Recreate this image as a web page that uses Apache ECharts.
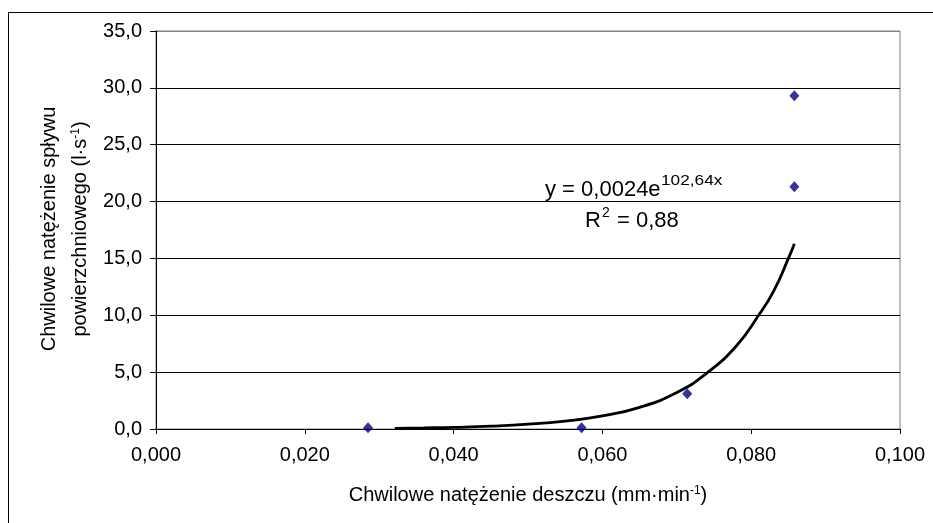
<!DOCTYPE html>
<html>
<head>
<meta charset="utf-8">
<script src="https://cdn.jsdelivr.net/npm/echarts@6/dist/echarts.min.js"></script>
<style>
html,body{margin:0;padding:0;background:#fff;}
#c{width:933px;height:523px;}
</style>
</head>
<body>
<div id="c"></div>
<script>
// Measured points
var pointX = [0.0285, 0.0572, 0.0714, 0.0858, 0.0858];
var pointY = [0.1, 0.1, 3.1, 21.3, 29.3];
// Trend line
var trendX = [0.0321, 0.036, 0.040, 0.045, 0.050, 0.055, 0.060, 0.065, 0.070, 0.074, 0.078, 0.081, 0.083, 0.085, 0.0858];
var trendY = [0.06, 0.10, 0.15, 0.25, 0.42, 0.70, 1.15, 1.90, 3.20, 4.90, 7.30, 10.0, 12.1, 15.0, 16.3];
var xTicks = [0, 0.02, 0.04, 0.06, 0.08, 0.1];
var yTicks = [0, 5, 10, 15, 20, 25, 30, 35];

var FONT = 'Liberation Sans, Arial, sans-serif';
var chart = echarts.init(document.getElementById('c'), null, {renderer: 'canvas'});

var scatterData = pointX.map(function (x, i) { return [x, pointY[i]]; });
var trendData = trendX.map(function (x, i) { return [x, trendY[i]]; });

function txt(x, y, s, size, align, sx, rot) {
  var o = {type: 'text', x: x, y: y, silent: true,
    style: {text: s, fontFamily: FONT, fontSize: size, fill: '#000', align: align || 'left', verticalAlign: 'middle',
      rich: {s: {fontSize: Math.round(size * 0.62), fontFamily: FONT, verticalAlign: 'top', fill: '#000'}}}};
  if (sx) { o.scaleX = sx; }
  if (rot) { o.rotation = rot; }
  return o;
}

chart.setOption({
  animation: false,
  backgroundColor: '#ffffff',
  grid: {left: 156, right: 33, top: 31, bottom: 94, show: true, borderColor: '#808080', borderWidth: 1, backgroundColor: 'transparent'},
  xAxis: {
    type: 'value', min: xTicks[0], max: xTicks[xTicks.length - 1], interval: 0.02,
    axisLine: {lineStyle: {color: '#000', width: 1}},
    axisTick: {show: true, length: 5, inside: false, lineStyle: {color: '#000'}},
    splitLine: {show: false},
    axisLabel: {fontFamily: FONT, fontSize: 20, color: '#000', margin: 16,
      formatter: function (v) { return v.toFixed(3).replace('.', ','); }}
  },
  yAxis: {
    type: 'value', min: yTicks[0], max: yTicks[yTicks.length - 1], interval: 5,
    axisLine: {show: true, lineStyle: {color: '#000', width: 1}},
    axisTick: {show: true, length: 6, inside: false, lineStyle: {color: '#000'}},
    splitLine: {show: true, lineStyle: {color: ['#000', '#000', '#000', '#000', '#000', '#000', '#000', '#808080'], width: 1}},
    axisLabel: {fontFamily: FONT, fontSize: 20, color: '#000', margin: 14,
      formatter: function (v) { return v.toFixed(1).replace('.', ','); }}
  },
  series: [
    {
      type: 'line', data: trendData, showSymbol: false, smooth: true,
      lineStyle: {color: '#000', width: 2.8}, z: 3, silent: true
    },
    {
      type: 'scatter', data: scatterData, symbol: 'diamond', symbolSize: [10, 11],
      itemStyle: {color: '#000080'}, z: 4
    }
  ],
  graphic: [
    {type: 'rect', shape: {x: 8.5, y: 12.5, width: 940, height: 540}, style: {fill: 'none', stroke: '#000', lineWidth: 1}, z: 100, silent: true},
    txt(528, 495, 'Chwilowe natężenie deszczu (mm·min{s|-1})', 20, 'center'),
    txt(49, 229, 'Chwilowe natężenie spływu', 20, 'center', null, Math.PI / 2),
    txt(80, 229, 'powierzchniowego (l·s{s|-1})', 20, 'center', null, Math.PI / 2),
    txt(545, 190, 'y = 0,0024e', 22, 'left'),
    txt(661, 181, '102,64x', 15, 'left', 1.15),
    txt(585, 221, 'R', 22, 'left'),
    txt(602, 213, '2', 14, 'left'),
    txt(617, 221, '= 0,88', 22, 'left')
  ]
});
</script>
</body>
</html>
